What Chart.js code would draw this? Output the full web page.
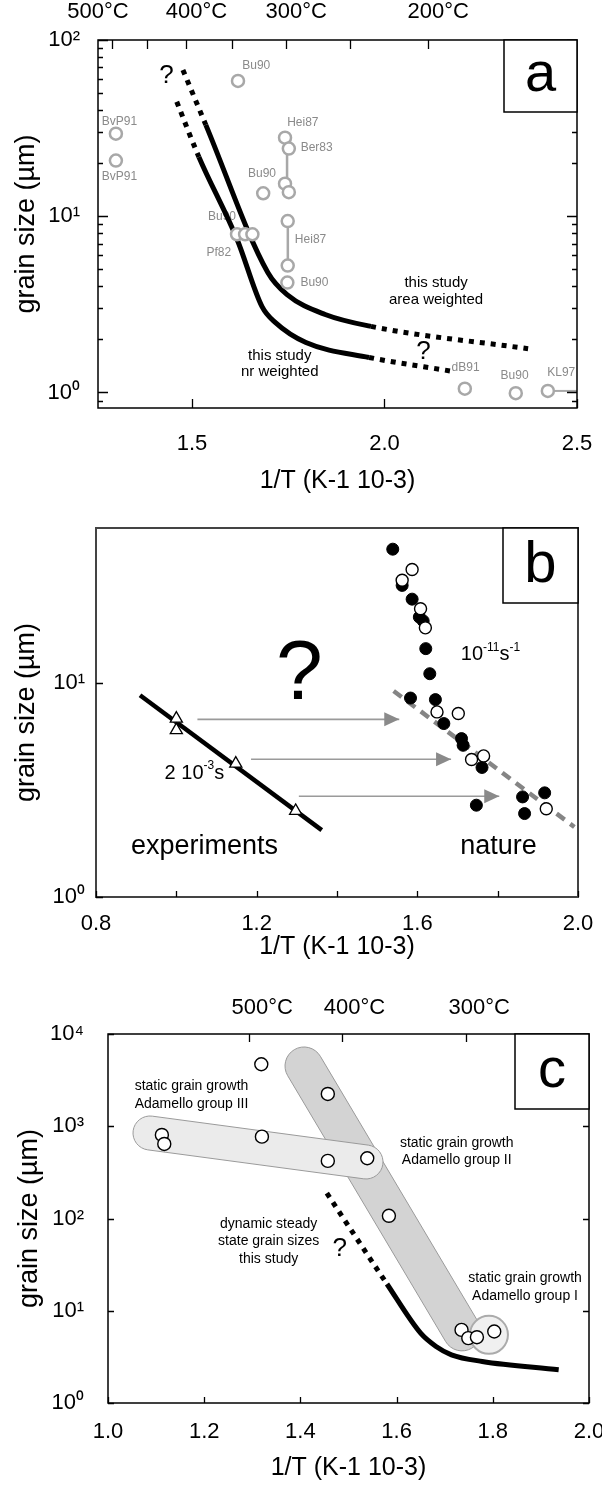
<!DOCTYPE html>
<html>
<head>
<meta charset="utf-8">
<script src="https://cdn.jsdelivr.net/npm/chart.js@4.4.1/dist/chart.umd.min.js"></script>
<style>
  html, body { margin: 0; padding: 0; background: #fff; }
  body { width: 602px; height: 1486px; position: relative; overflow: hidden; }
  canvas { position: absolute; left: 0; }
</style>
</head>
<body>
<canvas id="chartA" width="602" height="505" style="top:0px"></canvas>
<canvas id="chartB" width="602" height="457" style="top:505px"></canvas>
<canvas id="chartC" width="602" height="524" style="top:962px"></canvas>
<script>
/*==== data : panel a ====*/
// literature grain sizes (grey rings)
const litX = [1.3025, 1.3025, 1.6196, 1.7417, 1.7516, 1.7417, 1.7516, 1.685, 1.7487, 1.617, 1.638, 1.657, 1.7487, 1.7478, 2.2087, 2.341, 2.4243];
const litY = [29.4, 20.7, 58.6, 27.9, 24.2, 15.3, 13.7, 13.5, 9.38, 7.9, 7.9, 7.9, 5.25, 4.2, 1.05, 0.99, 1.02];
// vertical ranges joining two rings
const rangeX = [1.747, 1.749];
const rangeTopY = [24.2, 9.38];
const rangeBotY = [15.3, 5.25];
// this study, area weighted / number weighted
const areaX = [1.4765, 1.536, 1.697, 1.747, 1.846, 1.965, 2.373];
const areaY = [67.6, 33.0, 4.79, 3.59, 2.77, 2.37, 1.77];
const nrX = [1.4605, 1.518, 1.6176, 1.682, 1.717, 1.796, 1.960, 2.174];
const nrY = [44.6, 21.7, 7.36, 3.07, 2.49, 1.92, 1.58, 1.32];
const xTicksA = [1.5, 2.0, 2.5];
const tempTicksA = [500, 450, 400, 350, 300, 250, 200];
const tempNamedA = [500, 400, 300, 200];

/*==== data : panel b ====*/
const natFilledX = [1.5388, 1.5622, 1.587, 1.605, 1.6145, 1.621, 1.631, 1.583, 1.645, 1.666, 1.710, 1.714, 1.761, 1.747, 1.862, 1.867, 1.917];
const natFilledY = [41.9, 28.4, 24.5, 20.2, 19.4, 14.4, 11.0, 8.47, 8.33, 6.44, 5.48, 5.10, 4.02, 2.68, 2.93, 2.45, 3.06];
const natOpenX = [1.587, 1.5622, 1.608, 1.620, 1.649, 1.702, 1.735, 1.765, 1.921];
const natOpenY = [33.7, 30.0, 22.1, 18.0, 7.30, 7.17, 4.38, 4.55, 2.58];
const expX = [1.0, 1.0, 1.148, 1.297];
const expY = [6.79, 6.0, 4.19, 2.52];
const expFitX = [0.9096, 1.362];
const expFitY = [8.73, 2.05];
const natFitX = [1.541, 1.991];
const natFitY = [9.14, 2.12];
const shiftFromX = [1.0525, 1.186, 1.305];
const shiftToX = [1.585, 1.714, 1.834];
const shiftY = [6.74, 4.39, 2.95];
const xLabelsB = [0.8, 1.2, 1.6, 2.0];

/*==== data : panel c ====*/
const adX = [1.3187, 1.457, 1.112, 1.117, 1.320, 1.457, 1.539, 1.584, 1.735, 1.749, 1.767, 1.803];
const adY = [4700, 2240, 805, 643, 771, 421, 450, 107, 6.2, 5.05, 5.17, 5.96];
const dssX = [1.455, 1.580, 1.650, 1.682, 1.714, 1.778, 1.937];
const dssY = [188, 19.5, 5.71, 4.1, 3.33, 2.82, 2.29];
const tempTicksC = [500, 400, 300];

/*==== setup ====*/
const FONT = '"Liberation Sans", Arial, Helvetica, sans-serif';
Chart.defaults.font.family = FONT;
Chart.defaults.color = '#000';
Chart.defaults.animation = false;
Chart.defaults.events = [];
Chart.defaults.plugins.legend.display = false;
Chart.defaults.plugins.tooltip.enabled = false;

const SUP = {'0': '\u2070', '1': '\u00b9', '2': '\u00b2', '3': '\u00b3', '4': '\u2074'};

function pts(xs, ys) {
    return xs.map((x, i) => ({x: x, y: ys[i]}));
}
function tempToInv(t) {
    return 1000 / (t + 273.15);
}
function decadeLabel(v) {
    return '10' + SUP[String(Math.round(Math.log10(v)))];
}
function dashedEnds(first, last, dash) {
    return {
        borderDash: c => {
            const n = c.chart.data.datasets[c.datasetIndex].data.length;
            if ((first && c.p0DataIndex === 0) || (last && c.p1DataIndex === n - 1)) return dash;
            return undefined;
        }
    };
}

// "10^{-11}s^{-1}" -> pieces
function richParts(str) {
    const parts = [];
    const re = /\^\{([^}]*)\}/g;
    let last = 0, m;
    while ((m = re.exec(str))) {
        if (m.index > last) parts.push([str.slice(last, m.index), false]);
        parts.push([m[1], true]);
        last = re.lastIndex;
    }
    if (last < str.length) parts.push([str.slice(last), false]);
    return parts;
}

function drawNote(chart, n) {
    const ctx = chart.ctx;
    const px = chart.scales.x.getPixelForValue(n.x);
    const py = chart.scales.y.getPixelForValue(n.y);
    const size = n.size || 14;
    const supSize = Math.round(size * 0.62);
    const parts = richParts(n.text);
    let total = 0;
    parts.forEach(p => {
        ctx.font = (p[1] ? supSize : size) + 'px ' + FONT;
        p.push(ctx.measureText(p[0]).width);
        total += p[2];
    });
    let cx = px - total / 2;
    ctx.save();
    ctx.fillStyle = n.color || '#000';
    ctx.textAlign = 'left';
    ctx.textBaseline = 'middle';
    parts.forEach(p => {
        ctx.font = (p[1] ? supSize : size) + 'px ' + FONT;
        ctx.fillText(p[0], cx, p[1] ? py - size * 0.36 : py);
        cx += p[2];
    });
    ctx.restore();
}

function drawShape(chart, s) {
    const ctx = chart.ctx;
    const x = chart.scales.x, y = chart.scales.y;
    ctx.save();
    ctx.beginPath();
    if (s.kind === 'capsule') {
        const x1 = x.getPixelForValue(s.x1), y1 = y.getPixelForValue(s.y1);
        const x2 = x.getPixelForValue(s.x2), y2 = y.getPixelForValue(s.y2);
        const ang = Math.atan2(y2 - y1, x2 - x1);
        ctx.arc(x1, y1, s.r, ang + Math.PI / 2, ang + 3 * Math.PI / 2);
        ctx.arc(x2, y2, s.r, ang - Math.PI / 2, ang + Math.PI / 2);
        ctx.closePath();
    } else {
        ctx.arc(x.getPixelForValue(s.x1), y.getPixelForValue(s.y1), s.r, 0, Math.PI * 2);
    }
    ctx.fillStyle = s.fill;
    ctx.fill();
    ctx.lineWidth = s.lineWidth || 1;
    ctx.strokeStyle = s.stroke;
    ctx.stroke();
    ctx.restore();
}

function innerTicks(chart, t) {
    const ctx = chart.ctx, a = chart.chartArea, sc = chart.scales;
    ctx.save();
    ctx.strokeStyle = t.color || '#000';
    ctx.lineWidth = 1.3;
    ctx.beginPath();
    if (t.bottom) sc.x.ticks.forEach(k => {
        const px = Math.round(sc.x.getPixelForValue(k.value)) + 0.5;
        ctx.moveTo(px, a.bottom); ctx.lineTo(px, a.bottom - t.bottom);
    });
    if (t.top && sc.x2) sc.x2.ticks.forEach(k => {
        const px = Math.round(sc.x2.getPixelForValue(k.value)) + 0.5;
        ctx.moveTo(px, a.top); ctx.lineTo(px, a.top + t.top);
    });
    const yMark = (v, len) => {
        const py = Math.round(sc.y.getPixelForValue(v)) + 0.5;
        if (t.left) { ctx.moveTo(a.left, py); ctx.lineTo(a.left + len, py); }
        if (t.right) { ctx.moveTo(a.right, py); ctx.lineTo(a.right - len, py); }
    };
    sc.y.ticks.forEach(k => yMark(k.value, t.major));
    if (t.minor) {
        for (let d = 0.1; d < sc.y.max; d *= 10) {
            for (let m = 2; m <= 9; m++) {
                const v = d * m;
                if (v > sc.y.min && v < sc.y.max) yMark(v, t.minor);
            }
        }
    }
    ctx.stroke();
    ctx.restore();
}

/*==== plugin : frame, inner ticks, notes, panel letter ====*/
const decor = {
    id: 'decor',
    beforeDatasetsDraw(chart, args, opts) {
        (opts.shapes || []).forEach(s => drawShape(chart, s));
        (opts.notesUnder || []).forEach(n => drawNote(chart, n));
    },
    afterDatasetsDraw(chart, args, opts) {
        const ctx = chart.ctx, a = chart.chartArea;
        // arrow heads at the end of arrow datasets
        chart.data.datasets.forEach((ds, i) => {
            if (!ds.arrowHead) return;
            const el = chart.getDatasetMeta(i).data;
            const p0 = el[el.length - 2], p1 = el[el.length - 1];
            const ang = Math.atan2(p1.y - p0.y, p1.x - p0.x);
            ctx.save();
            ctx.translate(p1.x, p1.y);
            ctx.rotate(ang);
            ctx.beginPath();
            ctx.moveTo(0, 0); ctx.lineTo(-15, -7); ctx.lineTo(-15, 7);
            ctx.closePath();
            ctx.fillStyle = '#8a8a8a';
            ctx.fill();
            ctx.restore();
        });
        (opts.notes || []).forEach(n => drawNote(chart, n));
        // frame
        ctx.save();
        ctx.strokeStyle = opts.frameColor || '#000';
        ctx.lineWidth = opts.frameWidth || 1.5;
        ctx.strokeRect(a.left, a.top, a.right - a.left, a.bottom - a.top);
        ctx.restore();
        innerTicks(chart, opts.ticks);
        // panel letter
        const b = opts.box;
        ctx.save();
        ctx.fillStyle = '#fff';
        ctx.fillRect(a.right - b.w, a.top, b.w, b.h);
        ctx.strokeStyle = '#000';
        ctx.lineWidth = 1.5;
        ctx.strokeRect(a.right - b.w, a.top, b.w, b.h);
        ctx.fillStyle = '#000';
        ctx.font = b.size + 'px ' + FONT;
        ctx.textAlign = 'center';
        ctx.textBaseline = 'middle';
        ctx.fillText(opts.letter, a.right - b.w / 2, a.top + b.h / 2);
        ctx.restore();
    }
};

/*==== axis builders ====*/
function yAxis(min, max, decades, width, pad, titlePad) {
    return {
        type: 'logarithmic', position: 'left', min: min, max: max,
        grid: {display: false}, border: {display: false},
        afterBuildTicks: s => { s.ticks = decades.map(v => ({value: v})); },
        afterFit: s => { s.width = width; s.paddingTop = 0; s.paddingBottom = 0; },
        ticks: {font: {size: 22}, padding: pad, autoSkip: false, callback: v => decadeLabel(v)},
        title: {display: true, text: 'grain size (\u00b5m)', font: {size: 27}, padding: {top: titlePad, bottom: 0}}
    };
}
function xAxis(min, max, height, pad, titlePad, tickExtra, extra) {
    return Object.assign({
        type: 'linear', position: 'bottom', min: min, max: max,
        grid: {display: false}, border: {display: false},
        afterFit: s => { s.height = height; s.paddingLeft = 0; s.paddingRight = 0; },
        ticks: Object.assign({font: {size: 22}, padding: pad, autoSkip: false, maxRotation: 0,
                              callback: v => v.toFixed(1)}, tickExtra || {}),
        title: {display: true, text: '1/T (K-1 10-3)', font: {size: 25}, padding: {top: 0, bottom: titlePad}}
    }, extra || {});
}
function tempAxis(min, max, height, pad, offset, temps, named) {
    return {
        type: 'linear', position: 'top', min: min, max: max,
        grid: {display: false}, border: {display: false},
        afterBuildTicks: s => { s.ticks = temps.map(t => ({value: tempToInv(t)})); },
        afterFit: s => { s.height = height; s.paddingLeft = 0; s.paddingRight = 0; },
        ticks: {
            font: {size: 22}, padding: pad, autoSkip: false, maxRotation: 0, labelOffset: offset,
            callback: (v, i) => {
                const t = temps[i];
                if (named.indexOf(t) < 0) return '';
                // first label sits left of its tick in the original
                return t === 500 && named.length > 3 ? t + '\u00b0C\u2007\u2007\u2007\u2007' : t + '\u00b0C';
            }
        }
    };
}

/*===== panel a =====*/
const grey = '#a8a8a8';
const tagA = (text, x, y) => ({text: text, x: x, y: y, size: 12, color: '#8a8a8a'});
new Chart(document.getElementById('chartA'), {
    type: 'scatter',
    data: {
        datasets: [
            {data: pts(litX, litY), pointRadius: 6, pointBorderWidth: 2.5, pointBorderColor: grey, pointBackgroundColor: '#fff'},
            {data: pts(rangeX, rangeTopY).flatMap((p, i) => [p, {x: rangeX[i], y: rangeBotY[i]}, {x: NaN, y: NaN}]),
             showLine: true, spanGaps: false, pointRadius: 0, borderColor: grey, borderWidth: 2.5},
            {data: [{x: litX[litX.length - 1], y: litY[litY.length - 1]}, {x: 2.5, y: litY[litY.length - 1]}],
             showLine: true, pointRadius: 0, borderColor: grey, borderWidth: 2},
            {data: pts(areaX, areaY), showLine: true, pointRadius: 0, borderColor: '#000', borderWidth: 5,
             borderCapStyle: 'butt', cubicInterpolationMode: 'monotone', segment: dashedEnds(true, true, [5, 6])},
            {data: pts(nrX, nrY), showLine: true, pointRadius: 0, borderColor: '#000', borderWidth: 5,
             borderCapStyle: 'butt', cubicInterpolationMode: 'monotone', segment: dashedEnds(true, true, [5, 6])}
        ]
    },
    options: {
        responsive: false,
        layout: {padding: {top: 0, right: 25, bottom: 0, left: 0}},
        scales: {
            x: xAxis(1.256, 2.5, 97, 15, 9, {}, {afterBuildTicks: s => { s.ticks = xTicksA.map(v => ({value: v})); }}),
            x2: tempAxis(1.256, 2.5, 40, 7, 10, tempTicksA, tempNamedA),
            y: yAxis(0.816, 100, [1, 10, 100], 98, 10, 10)
        },
        plugins: {
            decor: {
                letter: 'a', box: {w: 73, h: 72, size: 56},
                ticks: {left: true, right: true, major: 10, minor: 5, bottom: 9, top: 9},
                notesUnder: [
                    tagA('BvP91', 1.3116, 34.3), tagA('BvP91', 1.3116, 16.7), tagA('Bu90', 1.667, 71.3),
                    tagA('Hei87', 1.788, 33.9), tagA('Ber83', 1.824, 24.4), tagA('Bu90', 1.682, 17.4),
                    tagA('Bu90', 1.578, 10.0), tagA('Hei87', 1.808, 7.36), tagA('Pf82', 1.5698, 6.2),
                    tagA('Bu90', 1.818, 4.2), tagA('dB91', 2.2107, 1.39), tagA('Bu90', 2.338, 1.25),
                    tagA('KL97', 2.459, 1.30)
                ],
                notes: [
                    {text: 'this study', x: 2.134, y: 4.2, size: 15},
                    {text: 'area weighted', x: 2.134, y: 3.37, size: 15},
                    {text: 'this study', x: 1.728, y: 1.62, size: 15},
                    {text: 'nr weighted', x: 1.728, y: 1.30, size: 15},
                    {text: '?', x: 1.434, y: 62.5, size: 26},
                    {text: '?', x: 2.1015, y: 1.71, size: 26}
                ]
            }
        }
    },
    plugins: [decor]
});

/*===== panel b =====*/
const arrowSets = shiftY.map((y, i) => ({
    data: [{x: shiftFromX[i], y: y}, {x: shiftToX[i] - 0.03, y: y}],
    showLine: true, pointRadius: 0, borderColor: '#9a9a9a', borderWidth: 1.6, arrowHead: true
}));
new Chart(document.getElementById('chartB'), {
    type: 'scatter',
    data: {
        datasets: [
            {data: pts(natOpenX, natOpenY), pointRadius: 6, pointBorderWidth: 1.4, pointBorderColor: '#000', pointBackgroundColor: '#fff'},
            {data: pts(natFilledX, natFilledY), pointRadius: 6, pointBorderWidth: 1, pointBorderColor: '#000', pointBackgroundColor: '#000'},
            {data: pts(expX, expY), pointStyle: 'triangle', pointRadius: 7, pointBorderWidth: 1.3, pointBorderColor: '#000', pointBackgroundColor: '#fff'},
            {data: pts(expFitX, expFitY), showLine: true, pointRadius: 0, borderColor: '#000', borderWidth: 4.5},
            {data: pts(natFitX, natFitY), showLine: true, pointRadius: 0, borderColor: '#858585', borderWidth: 4.5,
             borderDash: [10, 7], borderCapStyle: 'butt'}
        ].concat(arrowSets)
    },
    options: {
        responsive: false,
        layout: {padding: {top: 23, right: 24, bottom: 0, left: 0}},
        scales: {
            x: xAxis(0.8, 2.0, 65, 6, 0, {
                stepSize: 0.2,
                callback: v => xLabelsB.some(l => Math.abs(l - v) < 1e-6) ? v.toFixed(1) : ''
            }),
            y: yAxis(1, 52.6, [1, 10], 96, 3, 10)
        },
        plugins: {
            decor: {
                letter: 'b', box: {w: 75, h: 75, size: 58}, frameColor: '#444', frameWidth: 2,
                ticks: {left: true, right: false, major: 7, bottom: 6},
                notes: [
                    {text: '?', x: 1.306, y: 10.8, size: 84},
                    {text: '10^{-11}s^{-1}', x: 1.782, y: 13.5, size: 20},
                    {text: '2 10^{-3}s', x: 1.045, y: 3.78, size: 20},
                    {text: 'experiments', x: 1.07, y: 1.72, size: 27},
                    {text: 'nature', x: 1.802, y: 1.72, size: 27}
                ]
            }
        }
    },
    plugins: [decor]
});

/*===== panel c =====*/
new Chart(document.getElementById('chartC'), {
    type: 'scatter',
    data: {
        datasets: [
            {data: pts(adX, adY), pointRadius: 6.5, pointBorderWidth: 1.4, pointBorderColor: '#000', pointBackgroundColor: '#fff'},
            {data: pts(dssX, dssY), showLine: true, pointRadius: 0, borderColor: '#000', borderWidth: 5,
             borderCapStyle: 'butt', cubicInterpolationMode: 'monotone', segment: dashedEnds(true, false, [5, 6])}
        ]
    },
    options: {
        responsive: false,
        layout: {padding: {top: 0, right: 13, bottom: 0, left: 0}},
        scales: {
            x: xAxis(1.0, 2.0, 83, 8, 3, {stepSize: 0.2}),
            x2: tempAxis(1.0, 2.0, 72, 5, 13, tempTicksC, tempTicksC),
            y: yAxis(1, 10000, [1, 10, 100, 1000, 10000], 108, 16, 13)
        },
        plugins: {
            decor: {
                letter: 'c', box: {w: 74, h: 75, size: 56},
                ticks: {left: true, right: true, major: 6, bottom: 6, top: 8},
                shapes: [
                    {kind: 'capsule', x1: 1.4075, y1: 4500, x2: 1.736, y2: 5.9, r: 19, fill: '#d3d3d3', stroke: '#9a9a9a'},
                    {kind: 'capsule', x1: 1.0873, y1: 845, x2: 1.5364, y2: 410, r: 17, fill: '#ebebeb', stroke: '#9a9a9a'},
                    {kind: 'circle', x1: 1.792, y1: 5.48, r: 19, fill: '#f0f0f0', stroke: '#ababab', lineWidth: 2}
                ],
                notes: [
                    {text: 'static grain growth', x: 1.1736, y: 2736, size: 14},
                    {text: 'Adamello group III', x: 1.1736, y: 1746, size: 14},
                    {text: 'static grain growth', x: 1.725, y: 664, size: 14},
                    {text: 'Adamello group II', x: 1.725, y: 429, size: 14},
                    {text: 'dynamic steady', x: 1.334, y: 87.5, size: 14},
                    {text: 'state grain sizes', x: 1.334, y: 56.2, size: 14},
                    {text: 'this study', x: 1.334, y: 36.2, size: 14},
                    {text: 'static grain growth', x: 1.867, y: 22.5, size: 14},
                    {text: 'Adamello group I', x: 1.867, y: 14.5, size: 14},
                    {text: '?', x: 1.482, y: 46.9, size: 26}
                ]
            }
        }
    },
    plugins: [decor]
});
</script>
</body>
</html>
